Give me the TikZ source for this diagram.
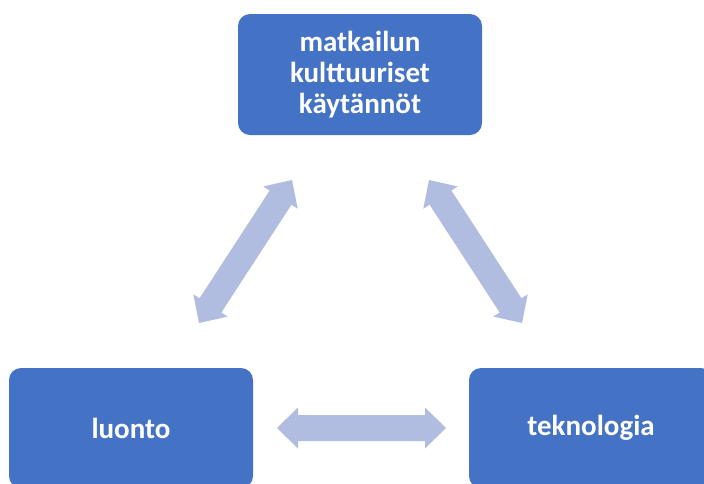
\documentclass[tikz,border=0pt]{standalone}
\usepackage{fontspec}
\setmainfont{Carlito}
\usetikzlibrary{calc}
\definecolor{boxblue}{RGB}{68,114,196}
\definecolor{arrowblue}{RGB}{176,188,224}
\tikzset{
  box/.style={draw=none, fill=boxblue, rounded corners=12pt, minimum width=244pt,
    minimum height=121pt, inner sep=0pt, text=white, align=center,
    font=\fontsize{29}{31}\selectfont\bfseries},
  arrowfill/.style={fill=arrowblue, draw=none}
}
\newcommand\dblarrow[2]{%
  \fill[arrowfill] (#1)
   -- ($(#1)!21pt!(#2)!20.5pt!90:(#2)$)
   -- ($(#1)!21pt!(#2)!13pt!90:(#2)$)
   -- ($(#2)!21pt!(#1)!13pt!-90:(#1)$)
   -- ($(#2)!21pt!(#1)!20.5pt!-90:(#1)$)
   -- (#2)
   -- ($(#2)!21pt!(#1)!20.5pt!90:(#1)$)
   -- ($(#2)!21pt!(#1)!13pt!90:(#1)$)
   -- ($(#1)!21pt!(#2)!13pt!-90:(#2)$)
   -- ($(#1)!21pt!(#2)!20.5pt!-90:(#2)$)
   -- cycle;}
\begin{document}
\begin{tikzpicture}[x=1pt,y=-1pt]
  \clip (0,0) rectangle (704,483);
  \fill[white] (0,0) rectangle (704,483);
  \node[box] (top) at (360,74.5) {matkailun\\kulttuuriset\\käytännöt};
  \node[box, minimum height=120pt] (left) at (131,428) {luonto};
  \node[box, minimum height=120pt] (right) at (591,428) {teknologia};
  \coordinate (l1) at (199,323);
  \coordinate (l2) at (292,180);
  \coordinate (r1) at (429,180);
  \coordinate (r2) at (522,323);
  \coordinate (h1) at (277,428);
  \coordinate (h2) at (446,428);
  \dblarrow{l1}{l2}
  \dblarrow{r1}{r2}
  \dblarrow{h1}{h2}
\end{tikzpicture}
\end{document}
